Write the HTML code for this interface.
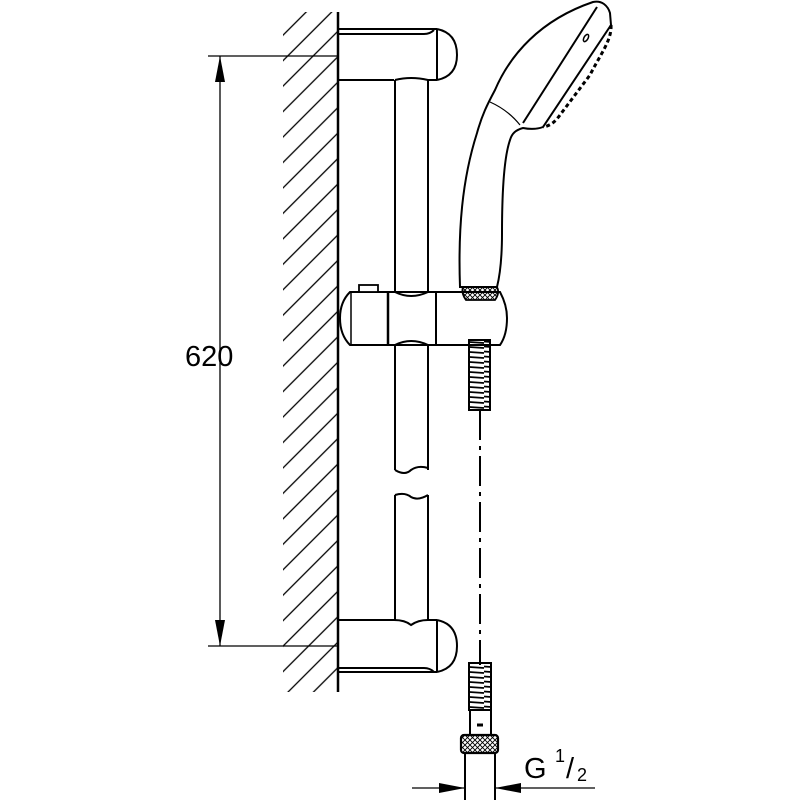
<!DOCTYPE html>
<html><head><style>body{margin:0;background:#fff}svg{display:block}</style></head><body>
<svg width="800" height="800" viewBox="0 0 800 800" xmlns="http://www.w3.org/2000/svg">
<defs>
<pattern id="hatch" width="18" height="18" patternUnits="userSpaceOnUse" patternTransform="rotate(45)">
<line x1="9" y1="0" x2="9" y2="18" stroke="#000" stroke-width="1.3"/>
</pattern>
<pattern id="knurl" width="5" height="5" patternUnits="userSpaceOnUse">
<path d="M0 0L5 5M5 0L0 5" stroke="#000" stroke-width="0.9"/>
</pattern>
<pattern id="thread" width="22" height="5" patternUnits="userSpaceOnUse">
<line x1="0" y1="1.5" x2="22" y2="3" stroke="#000" stroke-width="1.8"/>
</pattern>
</defs>
<g fill="none" stroke="#000" stroke-width="2">
<rect x="283" y="12" width="55" height="680" fill="url(#hatch)" stroke="none"/>
<line x1="338" y1="12" x2="338" y2="692" stroke-width="2.5"/>
<line x1="208" y1="56" x2="338" y2="56" stroke-width="1.3"/>
<line x1="208" y1="646" x2="338" y2="646" stroke-width="1.3"/>
<line x1="220" y1="56" x2="220" y2="646" stroke-width="1.3"/>
<path d="M220 56 L215 82 L225 82Z" fill="#000" stroke="none"/>
<path d="M220 646 L215 620 L225 620Z" fill="#000" stroke="none"/>
<path d="M338 29 H437 M338 34 H424 Q430 34 434 30 M338 80 H394 M428 80 H437 M437 29 V80 M437 29 Q457 33 457 55 Q457 76 437 80"/>
<path d="M395 80 V470 M428 80 V470 M395 470 Q405 476 411 470 Q418 465 428 468"/>
<path d="M395 80 Q411 76 428 80"/>
<path d="M395 495 Q405 492 411 497 Q418 501 428 495 M395 495 V620 M428 495 V620"/>
<path d="M338 620 H394 Q405 620 411 625 Q418 620 428 620 H437 M338 668 H424 Q430 668 434 672 M338 672 H437 M437 620 V672 M437 620 Q457 624 457 646 Q457 668 437 672"/>
<path d="M350 292 H500 Q507 305 507 318 Q507 335 500 345 H350 Q340 335 340 318 Q340 302 350 292Z" fill="#fff"/>
<line x1="388" y1="292" x2="388" y2="345" stroke-width="2.5"/>
<line x1="436" y1="292" x2="436" y2="345" stroke-width="2"/>
<line x1="351" y1="292" x2="351" y2="345" stroke-width="1.5"/>
<path d="M395 292 Q411 300 428 292 M395 345 Q411 337 428 345"/>
<rect x="359" y="285" width="19" height="7" fill="#fff" stroke-width="1.8"/>
<rect x="469" y="340" width="21" height="70" fill="url(#thread)" stroke-width="2"/>
<line x1="480" y1="410" x2="480" y2="665" stroke-width="2" stroke-dasharray="30,6,4,6"/>
<path d="M460 287 C458 230 462 180 477 133 C482 115 487 105 495 90 C510 55 540 20 593 2 C602 0 608 6 610 13 L611 25 L543 127 C535 130 528 129 523 128 C516 130 512 133 510 140 C503 160 502 200 502 233 C502 260 500 275 497 287 Z" fill="#fff"/>
<path d="M597 7 L523 123" stroke-width="2"/>
<path d="M490 102 Q508 110 520 125" stroke-width="1.2"/>
<path d="M611 25 C612 40 600 55 590 75 L560 115 C555 122 550 126 543 127" stroke-width="3" stroke-dasharray="4,3"/>
<ellipse cx="586" cy="38" rx="2" ry="4" transform="rotate(30 586 38)" stroke-width="1.5"/>
<path d="M463 287 H497 Q500 293 495 300 H466 Q461 293 463 287Z" fill="url(#knurl)" stroke-width="1.8"/>
<rect x="469" y="663" width="22" height="47" fill="url(#thread)"/>
<rect x="470" y="710" width="21" height="25" fill="#fff"/>
<line x1="477" y1="725" x2="483" y2="725" stroke-width="3"/>
<rect x="461" y="735" width="37" height="18" rx="3" fill="url(#knurl)" stroke-width="2.2"/>
<line x1="465" y1="753" x2="465" y2="800"/>
<line x1="495" y1="753" x2="495" y2="800"/>
<line x1="412" y1="788" x2="465" y2="788" stroke-width="1.3"/>
<line x1="495" y1="788" x2="595" y2="788" stroke-width="1.3"/>
<path d="M465 788 L439 783 L439 793Z" fill="#000" stroke="none"/>
<path d="M495 788 L521 783 L521 793Z" fill="#000" stroke="none"/>
</g>
<text x="185" y="366" font-family="Liberation Sans, sans-serif" font-size="29">620</text>
<text x="524" y="778" font-family="Liberation Sans, sans-serif" font-size="29">G</text>
<text x="555" y="762" font-family="Liberation Sans, sans-serif" font-size="18">1</text>
<text x="566" y="778" font-family="Liberation Sans, sans-serif" font-size="29">/</text>
<text x="577" y="781" font-family="Liberation Sans, sans-serif" font-size="18">2</text>
</svg>
</body></html>
